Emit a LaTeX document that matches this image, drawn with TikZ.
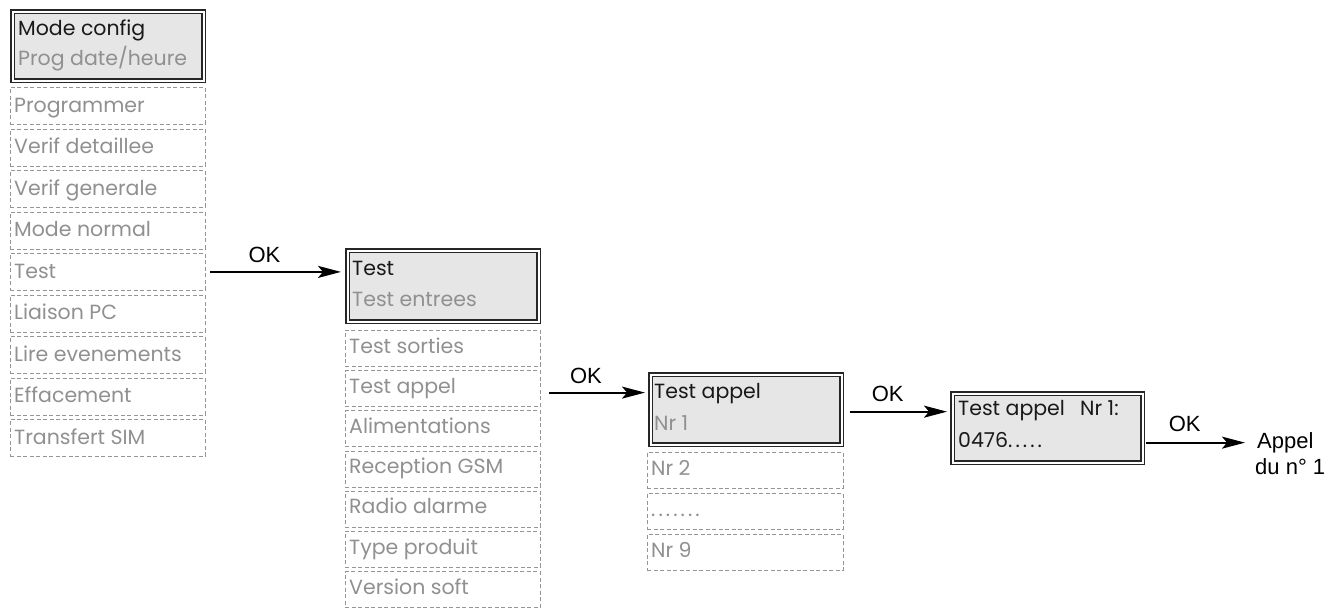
\documentclass[tikz,border=0pt]{standalone}
\usepackage{fontspec}
\setmainfont{Poppins}
\newfontfamily\arialf{Liberation Sans}
\usetikzlibrary{arrows.meta,calc}
\definecolor{hfill}{HTML}{E6E6E6}
\definecolor{ltext}{HTML}{909090}
\definecolor{dline}{HTML}{959595}
\begin{document}
\begin{tikzpicture}[x=1pt,y=-1pt,
 hdr/.style={draw=black!85, line width=1.3pt, double=white, double distance=2pt, fill=hfill, anchor=north west, inner sep=0pt},
 item/.style={draw=dline, line width=0.8pt, dash pattern=on 4pt off 2.5pt, anchor=north west, inner sep=0pt},
 txt/.style={anchor=base west, inner sep=0pt, font=\fontsize{20.5}{24}\selectfont, text=ltext},
 htxt/.style={txt, text=black!90},
 lbl/.style={font=\arialf\fontsize{22}{26}\selectfont, inner sep=0pt, anchor=base west},
 arr/.style={line width=2pt, -{Stealth[length=23pt,width=12pt,inset=5pt]}}]
\useasboundingbox (0,0) rectangle (1330,611);

% column 1
\node[hdr, minimum width=191pt, minimum height=69pt] (h1) at (12,11) {};
\node[htxt] (h1a) at (18,35) {Mode config};
\node[txt] (h1b) at (18,65) {Prog date/heure};
\foreach \t [count=\i from 0] in {Programmer,Verif detaillee,Verif generale,Mode normal,Test,Liaison PC,Lire evenements,Effacement,Transfert SIM}{
  \node[item, minimum width=195pt, minimum height=37pt] (c1-\i) at (10,{87+41.5*\i}) {};
  \node[txt] (c1t-\i) at (14,{87+41.5*\i+25}) {\t};
}

% column 2
\node[hdr, minimum width=191pt, minimum height=71pt] (h2) at (347,250) {};
\node[htxt] (h2a) at (352,275) {Test};
\node[txt] (h2b) at (352,306) {Test entrees};
\foreach \t [count=\i from 0] in {Test sorties,Test appel,Alimentations,Reception GSM,Radio alarme,Type produit,Version soft}{
  \node[item, minimum width=195pt, minimum height=36pt] (c2-\i) at (345,{330+40.2*\i}) {};
  \node[txt] (c2t-\i) at (349,{330+40.2*\i+23}) {\t};
}

% column 3
\node[hdr, minimum width=191pt, minimum height=70pt] (h3) at (650,374) {};
\node[htxt] (h3a) at (654,398) {Test appel};
\node[txt] (h3b) at (654,430) {Nr 1};
\node[item, minimum width=196pt, minimum height=36pt] (c3-0) at (647,452) {};
\node[txt] (c3t-0) at (651,475) {Nr 2};
\node[item, minimum width=196pt, minimum height=36pt] (c3-1) at (647,493) {};
\node[txt] (c3t-1) at (651,516) {\addfontfeature{LetterSpace=15}.......};
\node[item, minimum width=196pt, minimum height=36pt] (c3-2) at (647,534) {};
\node[txt] (c3t-2) at (651,557) {Nr 9};

% column 4
\node[hdr, minimum width=190pt, minimum height=69pt] (h4) at (952,393) {};
\node[htxt] (h4a) at (958,415) {Test appel};
\node[htxt] (h4c) at (1080,415) {Nr 1:};
\node[htxt] (h4b) at (958,447) {0476{\addfontfeature{LetterSpace=15}.....}};

% end label
\node[lbl] (ap1) at (1257,448) {Appel};
\node[lbl] (ap2) at (1255,474) {du n° 1};

% arrows
\draw[arr] ([xshift=4pt]c1-4.east) -- ([xshift=-6pt]c1-4.east -| h2.west)
  node[lbl, anchor=base, midway, yshift=9pt, xshift=-11pt] (ok1) {OK};
\draw[arr] ([xshift=8pt,yshift=-4pt]c2-1.east) -- ([xshift=-5pt,yshift=-4pt]c2-1.east -| h3.west)
  node[lbl, anchor=base, midway, yshift=9pt, xshift=-11pt] (ok2) {OK};
\draw[arr] ([xshift=8pt,yshift=-2pt]h3.east) -- ([xshift=-5pt,yshift=-2pt]h3.east -| h4.west)
  node[lbl, anchor=base, midway, yshift=10pt, xshift=-11pt] (ok3) {OK};
\draw[arr] ([xshift=3pt,yshift=-14.5pt]h4.east) -- ([xshift=-12pt,yshift=-14.5pt]h4.east -| ap1.west)
  node[lbl, anchor=base, midway, yshift=11pt, xshift=-11pt] (ok4) {OK};
\end{tikzpicture}
\end{document}
